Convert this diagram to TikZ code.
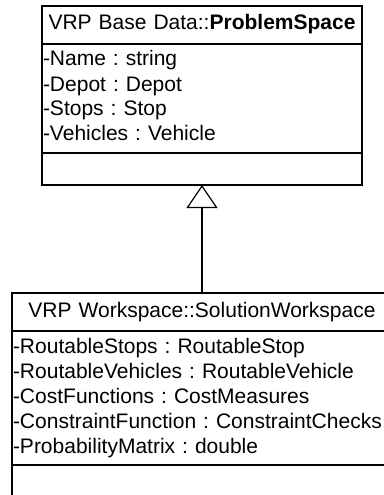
\documentclass[tikz,border=0pt]{standalone}
\usepackage{fontspec}
\setmainfont{Liberation Sans}
\frenchspacing
\usetikzlibrary{positioning,arrows.meta}
\tikzstyle{umlpart} = [rectangle, draw, line width=1.2pt, outer sep=0pt, inner xsep=1pt, font=\fontsize{21}{25}\selectfont]
\tikzstyle{classtitle} = [umlpart, align=center, inner ysep=6.5pt]
\tikzstyle{classattr} = [umlpart, align=left, inner ysep=4.5pt]
\tikzstyle{classops} = [umlpart, minimum height=32pt]
\tikzstyle{inherit} = [line width=1.2pt, -{Triangle[open, length=23pt, width=31pt]}]

\begin{document}
\begin{tikzpicture}
            \useasboundingbox (0,0) rectangle (383pt,-495pt);
            \node (ps-title) [classtitle, text width=318pt, anchor=north] at (202pt,-6pt) {\strut VRP Base Data::\textbf{ProblemSpace}};
            \node (ps-attr) [classattr, text width=318pt, below=0pt of ps-title] {
                \strut-Name : string\\
                \strut-Depot : Depot\\
                \strut-Stops : Stop\\
                \strut-Vehicles : Vehicle
            };
            \node (ps-ops) [classops, minimum width=320pt, below=0pt of ps-attr] {};
            \node (sw-title) [classtitle, text width=378pt, below=108pt of ps-ops] {\strut VRP Workspace::SolutionWorkspace};
            \node (sw-attr) [classattr, text width=378pt, below=0pt of sw-title] {
                \strut-RoutableStops : RoutableStop\\
                \strut-RoutableVehicles : RoutableVehicle\\
                \strut-CostFunctions : CostMeasures\\
                \strut-ConstraintFunction : ConstraintChecks\\
                \strut-ProbabilityMatrix : double
            };
            \node (sw-ops) [classops, minimum width=380pt, below=0pt of sw-attr] {};
            \draw [inherit] (sw-title) -- (ps-ops);
        \end{tikzpicture}
\end{document}
